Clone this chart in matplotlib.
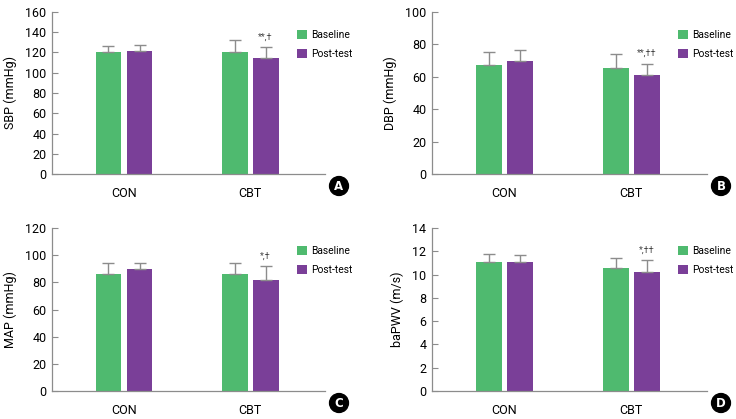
import matplotlib
matplotlib.use("Agg")
import matplotlib.pyplot as plt
from matplotlib.patches import Patch
import numpy as np
from matplotlib import font_manager

names = {f.name for f in font_manager.fontManager.ttflist}
fam = "Liberation Sans Narrow" if "Liberation Sans Narrow" in names else "Roboto"
plt.rcParams['font.family'] = [fam, 'DejaVu Sans']

categories = ["CON", "CBT"]
series = ["Baseline", "Post-test"]

sbp_base = [120, 120]; sbp_base_err = [6.5, 12]
sbp_post = [121, 115]; sbp_post_err = [6.5, 10]
dbp_base = [67.5, 65.5]; dbp_base_err = [7.5, 8.5]
dbp_post = [70, 61]; dbp_post_err = [6.5, 7]
map_base = [86, 86]; map_base_err = [8, 8.5]
map_post = [89.5, 82]; map_post_err = [5, 10]
pwv_base = [11.1, 10.55]; pwv_base_err = [0.7, 0.9]
pwv_post = [11.1, 10.2]; pwv_post_err = [0.6, 1.05]

annotations = ["**,\u2020", "**,\u2020\u2020", "*,\u2020", "*,\u2020\u2020"]
ylabels = ["SBP (mmHg)", "DBP (mmHg)", "MAP (mmHg)", "baPWV (m/s)"]
ymax = [160, 100, 120, 14]
ystep = [20, 20, 20, 2]
panel_letters = ["A", "B", "C", "D"]

green = "#4FBA6F"
purple = "#7A3F98"
grey = "#8C8C8C"

fig = plt.figure(figsize=(7.36, 4.19), dpi=100)
positions = [
    [0.0707, 0.5847, 0.3709, 0.3867],
    [0.587, 0.5847, 0.373, 0.3867],
    [0.0707, 0.0668, 0.3709, 0.389],
    [0.587, 0.0668, 0.373, 0.389],
]
letter_pos = [(339, 186), (721, 186), (339, 403), (721, 403)]

data = [
    (sbp_base, sbp_base_err, sbp_post, sbp_post_err),
    (dbp_base, dbp_base_err, dbp_post, dbp_post_err),
    (map_base, map_base_err, map_post, map_post_err),
    (pwv_base, pwv_base_err, pwv_post, pwv_post_err),
]

x = np.arange(len(categories))
w = 0.206
off = 0.123
for i, (b, be, p, pe) in enumerate(data):
    ax = fig.add_axes(positions[i])
    ekw = dict(ecolor=grey, elinewidth=1.0, capsize=4, capthick=1.0)
    ax.bar(x - off, b, w, color=green, yerr=[np.zeros(2), be], error_kw=ekw, zorder=2)
    ax.bar(x + off, p, w, color=purple, yerr=[np.zeros(2), pe], error_kw=ekw, zorder=2)
    ax.set_xlim(-0.571, 1.595)
    ax.set_ylim(0, ymax[i])
    ax.set_yticks(np.arange(0, ymax[i] + ystep[i] / 2, ystep[i]))
    ax.set_xticks(x)
    ax.set_xticklabels(categories, fontsize=9)
    ax.tick_params(axis='x', length=0, pad=9)
    ax.tick_params(axis='y', direction='in', length=4, color=grey, labelsize=9, pad=4)
    for s in ['top', 'right']:
        ax.spines[s].set_visible(False)
    for s in ['left', 'bottom']:
        ax.spines[s].set_color(grey)
        ax.spines[s].set_linewidth(0.9)
    ax.set_ylabel(ylabels[i], fontsize=9, labelpad=6)
    ax.text(x[1] + off, p[1] + pe[1] + ymax[i] * 0.035, annotations[i],
            ha='center', va='bottom', fontsize=6.5, color='#444444')
    handles = [Patch(facecolor=green, label=series[0]), Patch(facecolor=purple, label=series[1])]
    ax.legend(handles=handles, loc='upper left', bbox_to_anchor=(0.882, 0.915), frameon=False,
              handlelength=0.95, handleheight=1.0, handletextpad=0.4, labelspacing=0.85,
              fontsize=7.4, borderaxespad=0)
    lx, ly = letter_pos[i]
    fig.text(lx / 736, 1 - ly / 419, panel_letters[i], ha='center', va='center',
             color='white', fontsize=8.5, fontweight='bold', family='DejaVu Sans',
             bbox=dict(boxstyle='circle,pad=0.25', fc='black', ec='black'))

fig.savefig("out.png", dpi=100)
